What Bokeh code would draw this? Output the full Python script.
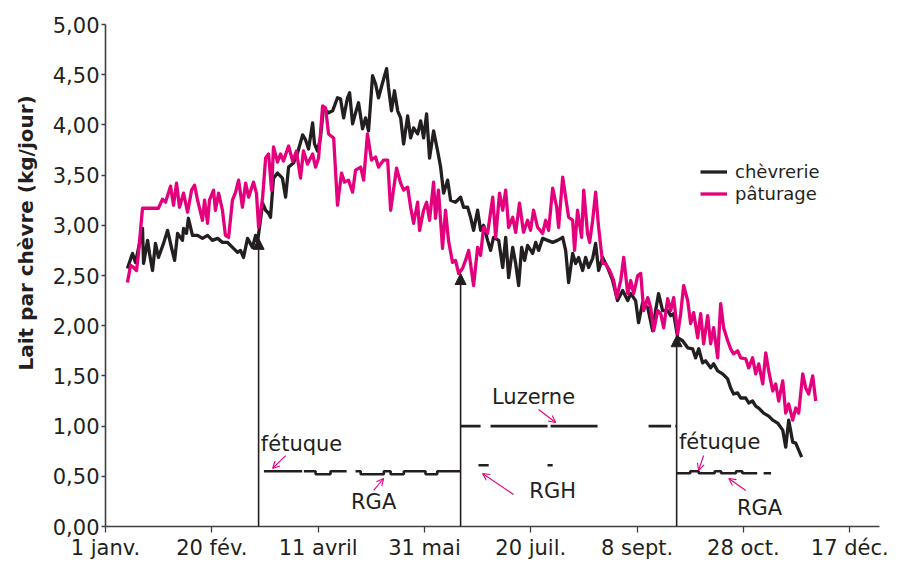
from bokeh.plotting import figure
from bokeh.models import (FixedTicker, Range1d, Label, Arrow, NormalHead, OpenHead,
                          Legend, LegendItem, Title)
from bokeh.embed import file_html
from bokeh.resources import INLINE

NAN = float("nan")

# ---------------- data ----------------
tick_days = [0, 50, 100, 150, 200, 250, 300, 350]
tick_labels = ["1 janv.", "20 fév.", "11 avril", "31 mai", "20 juil.", "8 sept.", "28 oct.", "17 déc."]
y_ticks = [0.0, 0.5, 1.0, 1.5, 2.0, 2.5, 3.0, 3.5, 4.0, 4.5, 5.0]
y_tick_labels = ["0,00", "0,50", "1,00", "1,50", "2,00", "2,50", "3,00", "3,50", "4,00", "4,50", "5,00"]

paturage_jour = [10.3, 11.8, 13.2, 14.6, 15.5, 17.4, 24.9, 26.8, 28.2, 30.6, 32.0, 33.4, 34.8, 36.7, 38.6, 40.5, 41.9, 43.3, 45.6, 46.6,
                 48.0, 48.9, 50.8, 51.7, 53.2, 55.0, 56.4, 57.9, 59.7, 61.2, 62.6, 64.4, 65.9, 67.3, 69.6, 71.0, 72.0, 73.9, 75.3, 76.7,
                 78.1, 79.0,
                 80.9, 82.3, 83.7, 86.1, 88.0, 89.8, 91.7, 93.1, 95.0, 97.4, 98.8, 100.2, 102.1, 103.5, 104.9, 107.3, 109.1, 111.0, 112.4, 114.3,
                 116.2, 117.6, 120.0, 121.4, 123.2, 125.1, 127.0, 128.4, 130.8, 132.7, 134.1, 136.9, 138.8, 140.2, 142.1, 143.5, 144.9, 146.8, 147.7, 149.6,
                 151.0, 152.4, 154.3, 155.2, 156.6, 158.5, 159.9, 161.3, 163.2, 164.6, 166.1, 167.9, 169.3, 170.8,
                 173.1, 175.0, 176.4, 177.8, 179.7, 182.1, 183.5, 185.3, 186.8, 188.2, 189.6, 191.5, 192.9, 194.7, 196.6, 198.5, 199.9, 201.3, 203.2, 205.6,
                 207.0, 208.4, 210.3, 212.2, 213.1, 215.0, 216.4, 217.8, 219.7, 220.6, 222.0, 223.9, 224.9, 226.7, 227.7, 229.1, 230.5, 231.9, 233.8, 235.2,
                 237.1, 239.0, 240.4, 242.3, 243.7, 245.6,
                 247.0, 248.4, 250.3, 251.7, 253.1, 255.0, 256.4, 257.8, 259.7, 261.1, 262.5, 264.4, 265.8, 267.2, 269.1, 270.5, 271.9, 273.8, 275.2, 276.6,
                 278.5, 279.9, 281.3, 283.2, 284.6, 286.0, 287.9, 289.3, 290.7, 292.6, 294.0, 295.4, 297.3, 298.7, 301.1, 302.5, 304.3, 305.8, 307.2, 309.1,
                 310.5, 311.9, 313.8, 315.2, 316.6, 318.5, 319.9, 321.3, 323.2, 324.6, 326.0, 327.9, 329.3, 330.7, 332.6, 334.0]
paturage_lait = [2.43, 2.60, 2.58, 2.55, 2.72, 3.17, 3.17, 3.26, 3.23, 3.39, 3.20, 3.42, 3.18, 3.32, 3.13, 3.35, 3.40, 3.25, 3.05, 3.25,
                 3.02, 3.25, 3.35, 3.15, 3.32, 3.15, 2.90, 2.88, 3.25, 3.33, 3.45, 3.18, 3.42, 3.28, 3.43, 3.32, 2.98, 3.28, 3.67, 3.71,
                 3.35, 3.78,
                 3.63, 3.71, 3.64, 3.79, 3.64, 3.74, 3.47, 3.74, 3.61, 3.71, 3.58, 3.67, 4.19, 4.17, 3.91, 3.87, 3.20, 3.52, 3.43, 3.45,
                 3.33, 3.55, 3.58, 3.45, 3.91, 3.65, 3.68, 3.58, 3.65, 3.65, 3.15, 3.57, 3.42, 3.35, 3.38, 3.18, 3.02, 3.23, 2.95, 3.15,
                 3.23, 3.05, 3.43, 3.07, 3.35, 2.77, 3.15, 2.85, 2.63, 2.65, 2.52, 2.57, 2.65, 2.75,
                 2.40, 2.78, 2.70, 2.98, 2.92, 3.28, 2.88, 3.32, 3.15, 3.35, 2.98, 3.08, 2.93, 3.22, 2.93, 3.05, 2.95, 3.15, 2.98, 2.92,
                 3.05, 2.95, 3.37, 3.18, 2.98, 3.48, 3.28, 3.08, 3.05, 2.75, 3.15, 2.88, 3.35, 2.92, 2.83, 3.05, 3.33, 2.98, 2.62, 2.62,
                 2.55, 2.45, 2.28, 2.45, 2.68, 2.32,
                 2.45, 2.32, 2.50, 2.52, 2.15, 2.28, 2.18, 1.95, 2.15, 2.12, 1.98, 2.27, 2.15, 2.28, 1.92, 2.12, 2.40, 2.25, 2.02, 2.13,
                 1.88, 2.12, 1.82, 2.10, 1.82, 1.98, 1.68, 2.22, 1.98, 1.85, 1.77, 1.72, 1.75, 1.68, 1.67, 1.58, 1.68, 1.52, 1.62, 1.42,
                 1.73, 1.55, 1.35, 1.42, 1.25, 1.45, 1.13, 1.22, 1.06, 1.18, 1.13, 1.52, 1.38, 1.32, 1.50, 1.25]

chevrerie_jour = [10.3, 12.7, 14.1, 16.0, 17.4, 17.9, 19.8, 20.7, 22.1, 23.5, 24.9, 27.3, 29.2, 31.0, 32.5, 33.9, 36.2, 36.7, 38.1, 39.0,
                  40.9, 43.3, 45.6, 48.0, 50.3, 52.7, 55.0, 57.4, 59.7, 62.1, 63.5, 64.9, 66.8, 69.1, 70.6, 71.5, 73.9, 75.3, 76.7, 77.6,
                  79.0, 80.9, 83.2, 84.7, 86.1, 88.4, 90.3, 92.7, 94.1, 95.5, 97.4, 98.3, 99.7, 101.1, 102.5, 104.9, 106.8, 109.1, 110.5, 112.0,
                  113.8, 114.8, 116.2, 117.6, 119.0, 120.9, 122.3, 123.7, 125.6, 127.0, 128.4, 130.3, 132.2, 133.1, 134.5, 135.9, 137.4, 138.8, 140.2, 142.1,
                  143.5, 144.9, 146.8, 148.2, 149.6, 151.0, 152.4, 154.3, 156.2, 157.6, 159.0, 160.9, 162.3, 164.6, 167.0, 168.4, 170.3, 171.7,
                  173.1, 175.0, 176.4, 177.8, 179.7, 181.1, 182.5, 184.9, 186.8, 188.2, 189.6, 191.5, 192.9, 194.3, 195.7, 197.1, 198.5, 200.9, 202.3, 203.7,
                  205.6, 207.9, 210.3, 212.6, 215.0, 216.4, 217.8, 219.7, 221.1, 222.5, 224.4, 225.8, 227.2, 229.1, 230.5, 231.9, 233.8, 236.1, 238.5, 240.8,
                  243.2, 245.6,
                  247.0, 249.3, 250.7, 252.6, 255.0, 257.3, 258.7, 260.1, 262.0, 264.4, 265.8, 267.2, 269.1, 271.4, 273.8, 276.1, 277.5, 279.0, 280.8, 282.2,
                  284.6, 286.0, 287.9, 290.2, 292.6, 294.0, 295.4, 297.3, 298.7, 301.1, 302.5, 304.3, 305.8, 307.2, 309.5, 311.9, 313.8, 316.1, 318.5, 319.9,
                  321.3, 323.2, 324.6, 326.0, 327.4]
chevrerie_lait = [2.57, 2.72, 2.63, 2.82, 2.97, 2.62, 2.85, 2.72, 2.55, 2.82, 2.68, 2.82, 2.95, 2.78, 2.65, 2.92, 2.85, 2.97, 2.92, 3.07,
                  2.90, 2.90, 2.87, 2.90, 2.85, 2.87, 2.83, 2.83, 2.78, 2.73, 2.75, 2.68, 2.87, 2.78, 2.90, 2.83, 3.22, 3.15, 3.12, 3.08,
                  3.47, 3.52, 3.47, 3.28, 3.58, 3.62, 3.72, 3.90, 3.85, 3.76, 4.02, 3.81, 3.74, 3.87, 4.17, 4.12, 4.14, 4.27, 4.26, 4.07,
                  4.27, 4.32, 4.01, 4.12, 4.22, 3.96, 4.07, 3.94, 4.49, 4.41, 4.27, 4.42, 4.56, 4.37, 4.14, 4.34, 4.14, 4.07, 3.81, 4.09,
                  3.87, 3.97, 3.91, 4.04, 3.87, 4.11, 3.67, 3.94, 3.74, 3.58, 3.32, 3.45, 3.25, 3.23, 3.28, 3.18, 3.18, 3.08,
                  2.95, 3.15, 2.95, 3.00, 2.85, 2.75, 2.88, 2.85, 2.58, 2.88, 2.48, 2.78, 2.62, 2.40, 2.78, 2.65, 2.80, 2.72, 2.83, 2.75,
                  2.87, 2.85, 2.83, 2.85, 2.88, 2.75, 2.43, 2.72, 2.62, 2.68, 2.55, 2.68, 2.58, 2.67, 2.82, 2.55, 2.68, 2.58, 2.45, 2.25,
                  2.35, 2.25,
                  2.32, 2.25, 2.03, 2.23, 2.18, 1.95, 2.15, 2.32, 2.15, 2.15, 2.10, 2.12, 1.88, 1.85, 1.78, 1.77, 1.68, 1.77, 1.63, 1.65,
                  1.58, 1.62, 1.55, 1.52, 1.47, 1.38, 1.32, 1.33, 1.28, 1.28, 1.23, 1.25, 1.20, 1.18, 1.13, 1.10, 1.06, 1.03, 0.96, 0.79,
                  1.06, 0.84, 0.83, 0.76, 0.69]

# changes of feeding (day, milk level reached)
changement_jour = [72.0, 167.0, 268.6]
changement_lait = [2.87, 2.52, 1.90]

# forage periods (NaN = break)
bloc1_jour = [74.5, 92.5, NAN, 93.3, 98.8, 98.8, 105.8, 105.8, 113.4, NAN, 117.6, 120.0, 120.0, 130.9, 130.9, 134.1,
              134.1, 140.3, 140.3, 150.5, 150.5, 156.0, 156.0, 167.0]
bloc1_niv = [0.55, 0.55, NAN, 0.55, 0.55, 0.52, 0.52, 0.55, 0.55, NAN, 0.55, 0.55, 0.52, 0.52, 0.55, 0.55,
             0.52, 0.52, 0.55, 0.55, 0.52, 0.52, 0.55, 0.55]
luzerne_jour = [167.0, 176.4, NAN, 181.1, 207.9, NAN, 209.3, 231.4, NAN, 255.4, 266.0, NAN, 268.0, 268.6]
luzerne_niv = [1.0, 1.0, NAN, 1.0, 1.0, NAN, 1.0, 1.0, NAN, 1.0, 1.0, NAN, 1.0, 1.0]
rgh_jour = [175.4, 180.2, NAN, 207.9, 210.3]
rgh_niv = [0.61, 0.61, NAN, 0.61, 0.61]
bloc3_jour = [268.6, 275.0, 275.0, 279.0, 279.0, 286.5, 286.5, 289.5, 289.5, 296.5, 296.5, 299.5, 299.5, 306.5, NAN, 309.5, 313.0]
bloc3_niv = [0.53, 0.53, 0.55, 0.55, 0.53, 0.53, 0.55, 0.55, 0.53, 0.53, 0.55, 0.55, 0.53, 0.53, NAN, 0.53, 0.53]

# ---------------- style ----------------
BLACK = "#231f20"
PINK = "#e4007c"
AXIS = "#404040"
FONT = "DejaVu Sans"

p = figure(width=890, height=562, output_backend="svg", toolbar_location=None,
           x_range=Range1d(0, 364), y_range=Range1d(0, 5),
           min_border_left=105, min_border_right=11, min_border_top=24, min_border_bottom=36)
p.outline_line_color = None
p.grid.visible = False
p.background_fill_color = "white"
p.border_fill_color = "white"

p.xaxis.ticker = FixedTicker(ticks=tick_days)
p.xaxis.major_label_overrides = {d: l for d, l in zip(tick_days, tick_labels)}
p.yaxis.ticker = FixedTicker(ticks=y_ticks)
p.yaxis.major_label_overrides = {v: l for v, l in zip(y_ticks, y_tick_labels)}
for ax in (p.xaxis, p.yaxis):
    ax.axis_line_color = AXIS
    ax.axis_line_width = 1.6
    ax.major_tick_line_color = AXIS
    ax.major_tick_line_width = 1.3
    ax.major_tick_in = 0
    ax.minor_tick_line_color = None
    ax.major_label_text_font = FONT
    ax.major_label_text_font_size = "21px"
    ax.major_label_text_color = BLACK
p.xaxis.major_tick_out = 6
p.xaxis.major_label_standoff = 3
p.yaxis.major_tick_out = 4
p.yaxis.major_label_standoff = 2

# y-axis title (shifted upwards like the original)
p.add_layout(Title(text="Lait par chèvre (kg/jour)", align="left", offset=156, vertical_align="top",
                   standoff=20, text_font=FONT, text_font_style="bold", text_font_size="20px",
                   text_color=BLACK), "left")

# vertical arrows (feeding changes)
for d, v in zip(changement_jour, changement_lait):
    p.add_layout(Arrow(end=NormalHead(size=11, fill_color=BLACK, line_color=BLACK, line_width=1),
                       x_start=d, y_start=0, x_end=d, y_end=v,
                       line_color=BLACK, line_width=1.6))

# forage lines
for xs, ys in ((bloc1_jour, bloc1_niv), (luzerne_jour, luzerne_niv), (rgh_jour, rgh_niv), (bloc3_jour, bloc3_niv)):
    p.line(xs, ys, line_color=BLACK, line_width=2.6)

r_chev = p.line(chevrerie_jour, chevrerie_lait, line_color=BLACK, line_width=3.3, line_join="round")
r_pat = p.line(paturage_jour, paturage_lait, line_color=PINK, line_width=3.3, line_join="round")

# annotation texts
def txt(x, y, s, size="21px"):
    p.add_layout(Label(x=x, y=y, text=s, text_font=FONT, text_font_size=size, text_color=BLACK,
                       text_align="center", text_baseline="middle"))

txt(201.3, 1.285, "Luzerne")
txt(92.2, 0.82, "fétuque")
txt(126.1, 0.24, "RGA")
txt(210.3, 0.35, "RGH")
txt(288.8, 0.84, "fétuque")
txt(307.6, 0.18, "RGA")

# pink pointer arrows
for xs, ys, xe, ye in ((203.7, 1.165, 211.7, 1.036), (84.7, 0.707, 78.6, 0.578), (126.1, 0.359, 130.8, 0.478),
                       (191.9, 0.319, 177.3, 0.528), (281.3, 0.707, 278.9, 0.558), (301.1, 0.359, 293.1, 0.478)):
    p.add_layout(Arrow(end=OpenHead(size=7, line_color=PINK, line_width=1.1),
                       x_start=xs, y_start=ys, x_end=xe, y_end=ye, line_color=PINK, line_width=1.1))

legend = Legend(items=[LegendItem(label="chèvrerie", renderers=[r_chev]),
                       LegendItem(label="pâturage", renderers=[r_pat])],
                location=(595, 322), padding=0, margin=0, spacing=1,
                glyph_width=27, glyph_height=21, label_height=21, label_standoff=8,
                label_text_font=FONT, label_text_font_size="18px", label_text_color=BLACK,
                border_line_color=None, background_fill_alpha=0)
p.add_layout(legend, "center")

open("out.html", "w").write(file_html(p, INLINE))
